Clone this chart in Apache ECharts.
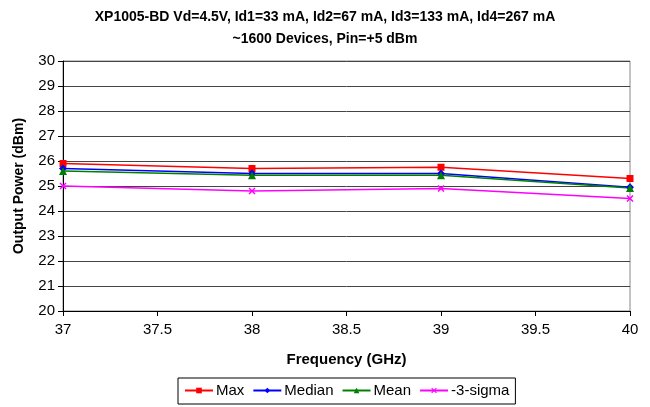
<!DOCTYPE html>
<html>
<head>
<meta charset="utf-8">
<script src="https://cdn.jsdelivr.net/npm/echarts@6/dist/echarts.min.js"></script>
<style>html,body{margin:0;padding:0;background:#fff;}#c{width:650px;height:407px;}</style>
</head>
<body>
<div id="c"></div>
<script>
const freqs = [37, 38, 39, 40];
const maxVals = [25.9, 25.7, 25.75, 25.3];
const medianVals = [25.7, 25.5, 25.5, 24.95];
const meanVals = [25.6, 25.43, 25.43, 24.92];
const sigmaVals = [25.0, 24.8, 24.9, 24.5];
const seriesNames = ['Max', 'Median', 'Mean', '-3-sigma'];

const F = 'Liberation Sans, Arial, sans-serif';
const xPath = 'path://M0,1.5L1.5,0L5,3.5L8.5,0L10,1.5L6.5,5L10,8.5L8.5,10L5,6.5L1.5,10L0,8.5L3.5,5Z';
const pair = v => v.map((y, i) => [freqs[i], y]);

const chart = echarts.init(document.getElementById('c'), null, {renderer: 'canvas'});
chart.setOption({
  animation: false,
  backgroundColor: '#fff',
  title: {
    text: 'XP1005-BD Vd=4.5V, Id1=33 mA, Id2=67 mA, Id3=133 mA, Id4=267 mA\n~1600 Devices, Pin=+5 dBm',
    left: 'center', top: 1,
    textStyle: {fontFamily: F, fontSize: 14, fontWeight: 'bold', color: '#000', lineHeight: 22}
  },
  legend: {
    data: seriesNames,
    left: 178, top: 378,
    orient: 'horizontal',
    borderColor: '#000', borderWidth: 1,
    padding: [5, 6, 6, 6],
    itemGap: 8,
    itemWidth: 28, itemHeight: 7,
    textStyle: {fontFamily: F, fontSize: 15, color: '#000', padding: [0, 0, 0, -2]}
  },
  grid: {left: 63, right: 20, top: 61, bottom: 96, containLabel: false},
  xAxis: {
    type: 'value', min: 37, max: 40, interval: 0.5,
    name: 'Frequency (GHz)', nameLocation: 'middle', nameGap: 41,
    nameTextStyle: {fontFamily: F, fontSize: 15, fontWeight: 'bold', color: '#000'},
    axisLine: {show: true, onZero: false, lineStyle: {color: '#000', width: 1}},
    axisTick: {show: true, inside: false, length: 5, lineStyle: {color: '#000'}},
    axisLabel: {fontFamily: F, fontSize: 15, color: '#000', margin: 11},
    splitLine: {show: false}
  },
  yAxis: {
    type: 'value', min: 20, max: 30, interval: 1,
    name: 'Output Power (dBm)', nameLocation: 'middle', nameGap: 37, nameRotate: 90,
    nameTextStyle: {fontFamily: F, fontSize: 14, fontWeight: 'bold', color: '#000'},
    axisLine: {show: true, lineStyle: {color: '#000', width: 1}},
    axisTick: {show: true, inside: false, length: 5, lineStyle: {color: '#000'}},
    axisLabel: {fontFamily: F, fontSize: 15, color: '#000', margin: 8},
    splitLine: {show: true, lineStyle: {color: '#444', width: 1}}
  },
  graphic: [{
    type: 'rect', shape: {x: 63, y: 61, width: 567, height: 250},
    style: {fill: 'none', stroke: '#888', lineWidth: 1}, z: -1, silent: true
  }],
  series: [
    {name: seriesNames[0], type: 'line', data: pair(maxVals), symbol: 'rect', symbolSize: 7,
     itemStyle: {color: '#ff0000'}, lineStyle: {color: '#ff0000', width: 1.5}},
    {name: seriesNames[1], type: 'line', data: pair(medianVals), symbol: 'diamond', symbolSize: 8,
     itemStyle: {color: '#0000ff'}, lineStyle: {color: '#0000ff', width: 1.5}},
    {name: seriesNames[2], type: 'line', data: pair(meanVals), symbol: 'triangle', symbolSize: 8,
     itemStyle: {color: '#008000'}, lineStyle: {color: '#008000', width: 1.5}},
    {name: seriesNames[3], type: 'line', data: pair(sigmaVals), symbol: xPath, symbolSize: 7,
     itemStyle: {color: '#ff00ff'}, lineStyle: {color: '#ff00ff', width: 1.5}}
  ]
});
</script>
</body>
</html>
